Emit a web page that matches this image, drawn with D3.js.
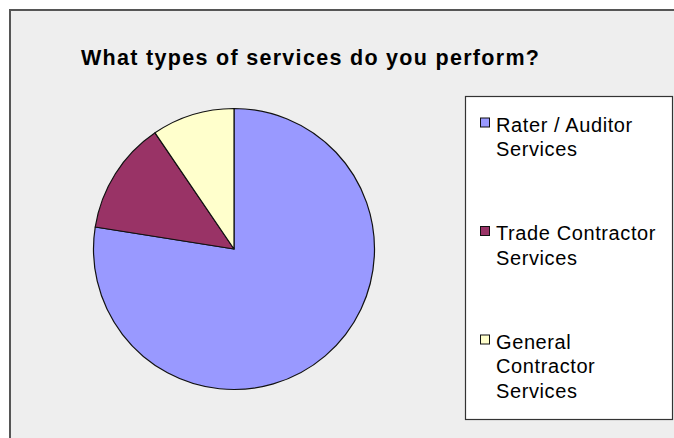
<!DOCTYPE html>
<html>
<head>
<meta charset="utf-8">
<script src="https://cdn.jsdelivr.net/npm/d3@7"></script>
<style>
html,body{margin:0;padding:0;background:#fff;}
svg{display:block;}
</style>
</head>
<body>
<svg id="chart" width="674" height="438"></svg>
<script>
const title = "What types of services do you perform?";
const categories = ["Rater / Auditor Services", "Trade Contractor Services", "General Contractor Services"];
const legendLines = [["Rater / Auditor", "Services"], ["Trade Contractor", "Services"], ["General", "Contractor", "Services"]];
const values = [77.5, 13, 9.5];
const colors = ["#9999FF", "#993366", "#FFFFCC"];

const svg = d3.select("#chart");
const font = "'Liberation Sans', Arial, sans-serif";

// chart area
svg.append("rect").attr("x", 10).attr("y", 10).attr("width", 700).attr("height", 460)
  .attr("fill", "#eeeeee").attr("stroke", "#555").attr("stroke-width", 2);

// title
svg.append("text").attr("x", 81).attr("y", 65)
  .attr("font-family", font).attr("font-weight", "bold").attr("font-size", 21.5)
  .attr("fill", "#000")
  .attr("textLength", 458).attr("lengthAdjust", "spacing")
  .text(title);

// pie
const cx = 234, cy = 249, r = 140.5;
const pie = d3.pie().sort(null).value(d => d)(values);
const arc = d3.arc().innerRadius(0).outerRadius(r);
const g = svg.append("g").attr("transform", `translate(${cx},${cy})`);
g.selectAll("path").data(pie).enter().append("path")
  .attr("d", arc)
  .attr("fill", (d, i) => colors[i])
  .attr("stroke", "#111").attr("stroke-width", 1.2).attr("stroke-linejoin", "round");

// legend
svg.append("rect").attr("x", 465.5).attr("y", 96.5).attr("width", 207).attr("height", 323)
  .attr("fill", "#fff").attr("stroke", "#333").attr("stroke-width", 1.2);

const firstBaselines = [131.5, 240, 348.5];
const lineH = 24.5;
const lg = svg.append("g");
categories.forEach((c, i) => {
  const y0 = firstBaselines[i];
  lg.append("rect").attr("x", 480.5).attr("y", y0 - 13.5).attr("width", 9).attr("height", 9)
    .attr("fill", colors[i]).attr("stroke", "#111").attr("stroke-width", 1);
  const t = lg.append("text").attr("font-family", font).attr("font-size", 20)
    .attr("letter-spacing", 0.6).attr("fill", "#000");
  legendLines[i].forEach((ln, j) => {
    t.append("tspan").attr("x", 496).attr("y", y0 + j * lineH).text(ln);
  });
});
</script>
</body>
</html>
